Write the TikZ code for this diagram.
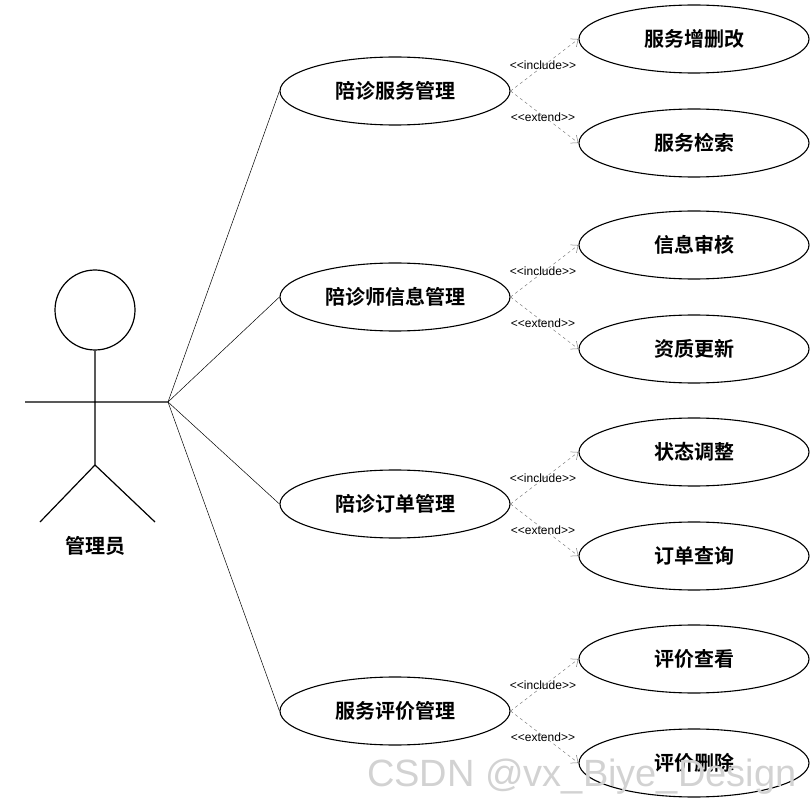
\documentclass[tikz,border=0pt]{standalone}
\usepackage{fontspec}
\setmainfont{Liberation Sans}
\newfontfamily\cjk{Noto Sans CJK SC}[BoldFont={Noto Sans CJK SC Bold}]
\usetikzlibrary{arrows.meta,shapes.geometric}
\newcommand\lt{<\kern0pt<}
\newcommand\gtt{>\kern0pt>}
\begin{document}
\begin{tikzpicture}[x=1pt,y=-1pt,
  uc/.style={draw,ellipse,minimum width=230pt,minimum height=68pt,inner sep=0,font=\cjk\bfseries\fontsize{20}{20}\selectfont,line width=1.1pt},
  rel/.style={draw=gray,dashed,line width=0.5pt,-{Straight Barb[length=6pt,width=10pt]}},
  lab/.style={font=\fontsize{12}{12}\selectfont,inner sep=0},
  act/.style={line width=1.2pt}]
\useasboundingbox (0,0) rectangle (812,802);
\node[draw,circle,minimum size=80pt,line width=1.2pt,inner sep=0] (head) at (95,310) {};
\coordinate (hip) at (95,465);
\coordinate (la) at (25,402);
\coordinate (ra) at (168,402);
\coordinate (ll) at (40,522);
\coordinate (rl) at (155,522);
\draw[act] (head.south) -- (hip) (la) -- (ra) (ll) -- (hip) -- (rl);
\node[font=\cjk\bfseries\fontsize{20}{20}\selectfont] (actor) at (95,546) {管理员};
\foreach \i/\m/\a/\b [count=\k] in {91/陪诊服务管理/服务增删改/服务检索,297/陪诊师信息管理/信息审核/资质更新,504/陪诊订单管理/状态调整/订单查询,711/服务评价管理/评价查看/评价删除}{
  \node[uc] (m\k) at (395,\i) {\m};
  \node[uc] (a\k) at (694,\i-52) {\a};
  \node[uc] (b\k) at (694,\i+52) {\b};
  \draw[line width=0.5pt] (ra) -- (m\k.west);
  \draw[rel] (m\k.east) -- (a\k.west);
  \draw[rel] (m\k.east) -- (b\k.west);
  \node[lab] (i\k) at (543,\i-26) {\lt include\gtt};
  \node[lab] (e\k) at (543,\i+26) {\lt extend\gtt};
}
\node[font=\fontsize{38}{38}\selectfont,text=gray!35,anchor=south east] (wm) at (800,798) {CSDN @vx\_Biye\_Design};
\end{tikzpicture}
\end{document}
